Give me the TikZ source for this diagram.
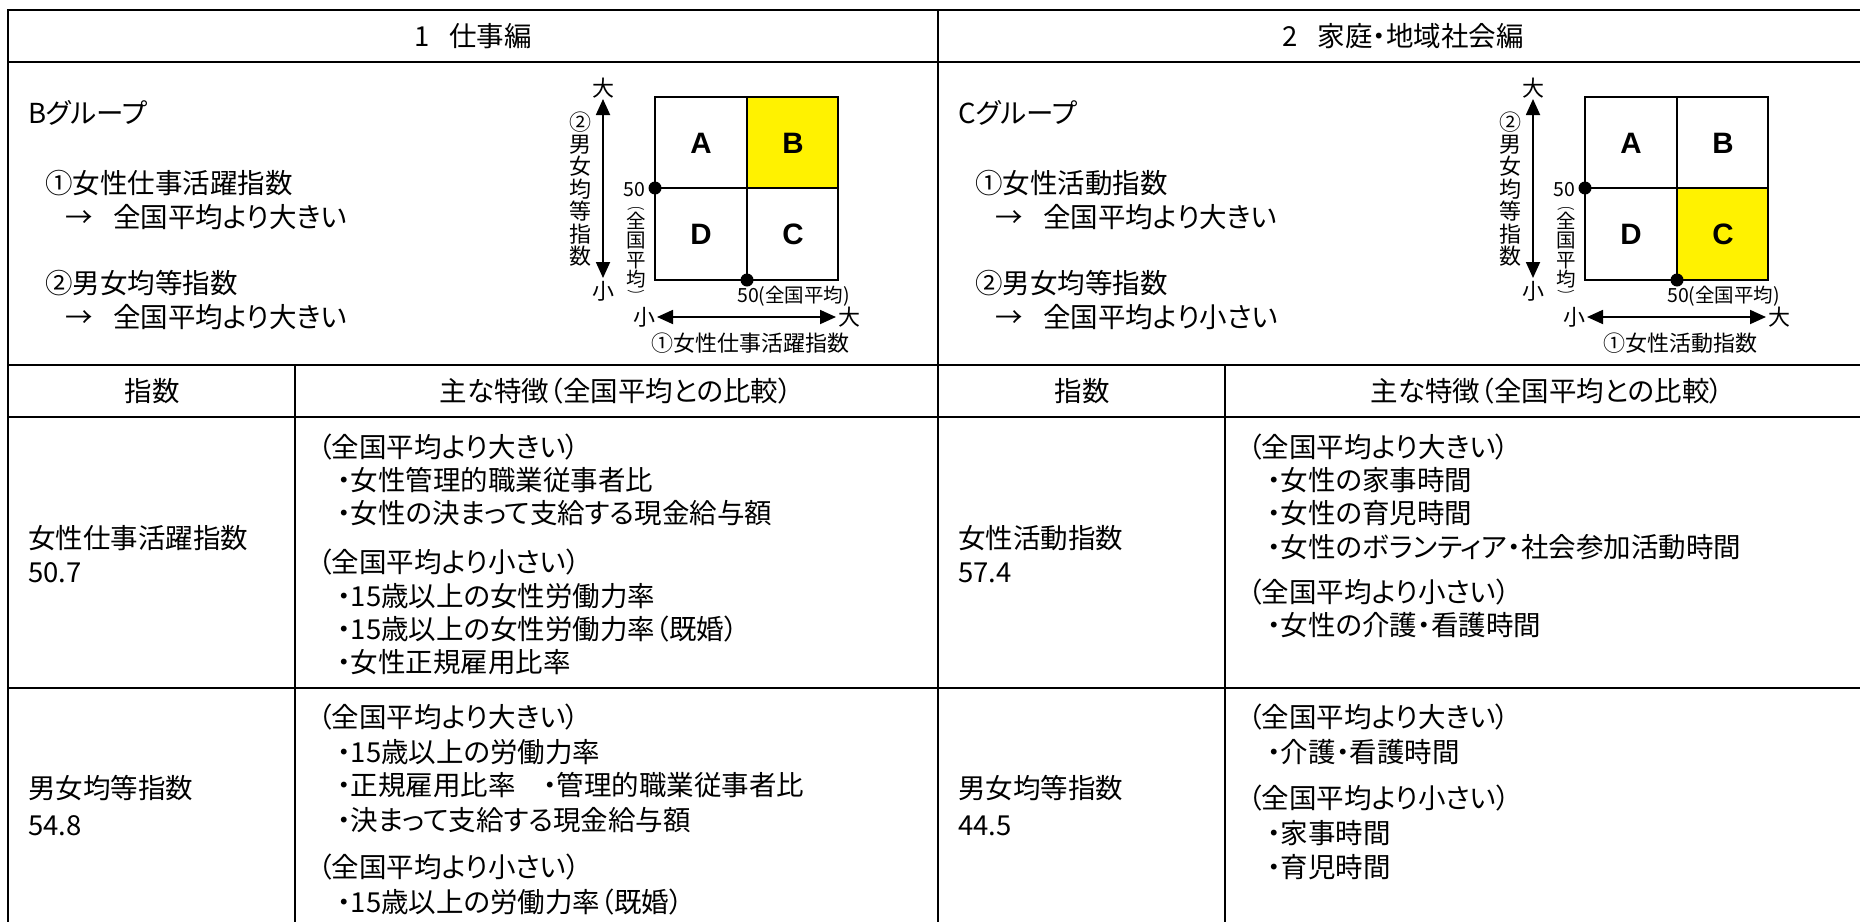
\documentclass[tikz,border=0pt]{standalone}
\usepackage{fontspec}
\setmainfont{Noto Sans CJK JP}[RawFeature={+palt}]
\newfontfamily\abcfont{Liberation Sans}
\usetikzlibrary{arrows.meta}
\newcommand\quadfig[6]{% #1 prefix, #2 x offset, #3 yellow x, #4 yellow y, #5 axis label, #6 unused
\begin{scope}[shift={(#2,0)}]
  \fill[yellow] (#3,#4) rectangle ++(91.5,91.5);
  \draw[tl] (655,97) rectangle (838,280);
  \draw[tl] (747,97) -- (747,280);
  \draw[tl] (655,188) -- (838,188);
  \node[abc] (#1A) at (701,143) {A};
  \node[abc] (#1B) at (793,143) {B};
  \node[abc] (#1D) at (701,234) {D};
  \node[abc] (#1C) at (793,234) {C};
  \node[qdot] (#1d1) at (655,188) {};
  \node[qdot] (#1d2) at (747,280) {};
  \node[tinylbl] (#1v50) at (634,189) {50};
  \node[parlbl] (#1vpo) at (636,205) {\scalebox{1.6}[1]{︵}};
  \node[tinylbl] (#1vc1) at (636,221) {全};
  \node[tinylbl] (#1vc2) at (636,240.5) {国};
  \node[tinylbl] (#1vc3) at (636,260) {平};
  \node[tinylbl] (#1vc4) at (636,279.5) {均};
  \node[parlbl] (#1vpc) at (636,295.5) {\scalebox{1.6}[1]{︶}};
  \node[tinylbl, anchor=west] (#1h50) at (737,295) {50(全国平均)};
  \node[lbl] (#1vtop) at (603,88) {大};
  \node[lbl] (#1vbot) at (603,291) {小};
  \coordinate (#1va) at (603,99);
  \coordinate (#1vb) at (603,278);
  \draw[biarrow] (#1va) -- (#1vb);
  \node[lbl, align=center] (#1vname) at (580,189) {②\\男\\女\\均\\等\\指\\数};
  \node[lbl] (#1hl) at (644,317) {小};
  \node[lbl] (#1hr) at (849,317) {大};
  \coordinate (#1ha) at (657,317);
  \coordinate (#1hb) at (836,317);
  \draw[biarrow] (#1ha) -- (#1hb);
  \node[lbl] (#1hname) at (750,343) {#5};
\end{scope}}
\begin{document}
\begin{tikzpicture}[x=1pt,y=-1pt,
  tl/.style={line width=2.7pt, draw=black, line cap=rect},
  bodytxt/.style={anchor=west, inner sep=0pt, text height=24pt, text depth=3pt, font=\fontsize{27.5}{33}\selectfont},
  cbodytxt/.style={bodytxt, anchor=center},
  lbl/.style={inner sep=0pt, font=\fontsize{22}{22.4}\selectfont},
  tinylbl/.style={inner sep=0pt, text height=17.2pt, text depth=2.3pt, font=\fontsize{19.5}{20}\selectfont},
  parlbl/.style={inner sep=0pt, text height=9.7pt, text depth=1.3pt, font=\fontsize{11}{11}\selectfont},
  abc/.style={inner sep=0pt, font=\abcfont\bfseries\fontsize{29.5}{29.5}\selectfont},
  qdot/.style={circle, fill=black, inner sep=0pt, minimum size=13pt},
  biarrow/.style={line width=1.8pt, {Triangle[length=16pt,width=14pt]}-{Triangle[length=16pt,width=14pt]}},
]
\useasboundingbox (0,0) rectangle (1860,921);
\fill[white] (0,0) rectangle (1860,921);
% table grid
\draw[tl] (8,10) -- (1860,10);
\draw[tl] (8,62) -- (1860,62);
\draw[tl] (8,365) -- (1860,365);
\draw[tl] (8,417) -- (1860,417);
\draw[tl] (8,688) -- (1860,688);
\draw[tl] (8,10) -- (8,921);
\draw[tl] (938,10) -- (938,921);
\draw[tl] (295,365) -- (295,921);
\draw[tl] (1225,365) -- (1225,921);
% titles
\node[cbodytxt] (t1) at (473,36) {1\hspace{20pt}仕事編};
\node[cbodytxt] (t2) at (1403,36) {2\hspace{20pt}家庭・地域社会編};
% group text left
\node[bodytxt] (g1) at (28,113) {Bグループ};
\node[bodytxt] (g1a) at (45,183) {①女性仕事活躍指数};
\node[bodytxt] (g1b) at (65,217) {\makebox[48pt][l]{→}全国平均より大きい};
\node[bodytxt] (g1c) at (45,283) {②男女均等指数};
\node[bodytxt] (g1d) at (65,317) {\makebox[48pt][l]{→}全国平均より大きい};
% group text right
\node[bodytxt] (g2) at (958,113) {Cグループ};
\node[bodytxt] (g2a) at (975,183) {①女性活動指数};
\node[bodytxt] (g2b) at (995,217) {\makebox[48pt][l]{→}全国平均より大きい};
\node[bodytxt] (g2c) at (975,283) {②男女均等指数};
\node[bodytxt] (g2d) at (995,317) {\makebox[48pt][l]{→}全国平均より小さい};
% quadrant figures
\quadfig{L}{0}{747}{97}{①女性仕事活躍指数}{}
\quadfig{R}{930}{747}{188}{①女性活動指数}{}
% headers
\node[cbodytxt] (h1) at (152,391) {指数};
\node[cbodytxt] (h2) at (616,391) {主な特徴（全国平均との比較）};
\node[cbodytxt] (h3) at (1082,391) {指数};
\node[cbodytxt] (h4) at (1547,391) {主な特徴（全国平均との比較）};
% row 1 left
\node[bodytxt] (r1n) at (28,538) {女性仕事活躍指数};
\node[bodytxt] (r1v) at (28,572) {50.7};
\node[bodytxt] (r1a) at (318,447) {（全国平均より大きい）};
\node[bodytxt] (r1b) at (337,480) {・女性管理的職業従事者比};
\node[bodytxt] (r1c) at (337,513) {・女性の決まって支給する現金給与額};
\node[bodytxt] (r1d) at (318,562) {（全国平均より小さい）};
\node[bodytxt] (r1e) at (337,596) {・15歳以上の女性労働力率};
\node[bodytxt] (r1f) at (337,629) {・15歳以上の女性労働力率（既婚）};
\node[bodytxt] (r1g) at (337,662) {・女性正規雇用比率};
% row 1 right
\node[bodytxt] (s1n) at (958,538) {女性活動指数};
\node[bodytxt] (s1v) at (958,572) {57.4};
\node[bodytxt] (s1a) at (1248,447) {（全国平均より大きい）};
\node[bodytxt] (s1b) at (1267,480) {・女性の家事時間};
\node[bodytxt] (s1c) at (1267,513) {・女性の育児時間};
\node[bodytxt] (s1d) at (1267,547) {・女性のボランティア・社会参加活動時間};
\node[bodytxt] (s1e) at (1248,592) {（全国平均より小さい）};
\node[bodytxt] (s1f) at (1267,625) {・女性の介護・看護時間};
% row 2 left
\node[bodytxt] (r2n) at (28,788) {男女均等指数};
\node[bodytxt] (r2v) at (28,825) {54.8};
\node[bodytxt] (r2a) at (318,717) {（全国平均より大きい）};
\node[bodytxt] (r2b) at (337,752) {・15歳以上の労働力率};
\node[bodytxt] (r2c) at (337,785) {\makebox[206pt][l]{・正規雇用比率}・管理的職業従事者比};
\node[bodytxt] (r2d) at (337,820) {・決まって支給する現金給与額};
\node[bodytxt] (r2e) at (318,867) {（全国平均より小さい）};
\node[bodytxt] (r2f) at (337,902) {・15歳以上の労働力率（既婚）};
% row 2 right
\node[bodytxt] (s2n) at (958,788) {男女均等指数};
\node[bodytxt] (s2v) at (958,825) {44.5};
\node[bodytxt] (s2a) at (1248,717) {（全国平均より大きい）};
\node[bodytxt] (s2b) at (1267,752) {・介護・看護時間};
\node[bodytxt] (s2c) at (1248,798) {（全国平均より小さい）};
\node[bodytxt] (s2d) at (1267,833) {・家事時間};
\node[bodytxt] (s2e) at (1267,867) {・育児時間};
\end{tikzpicture}
\end{document}
